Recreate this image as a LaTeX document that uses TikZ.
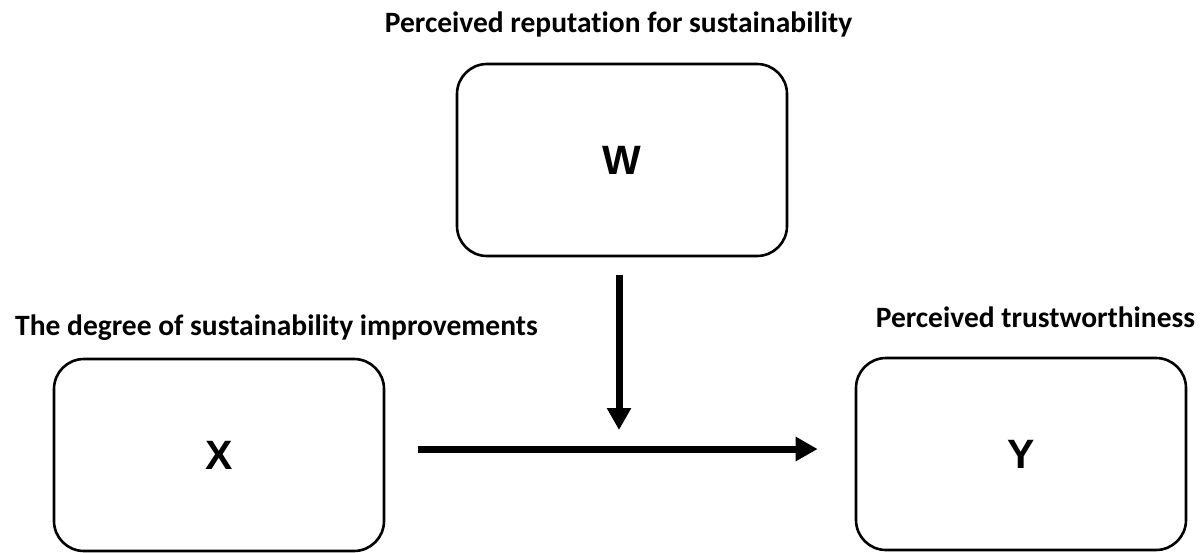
\documentclass[tikz,border=0pt]{standalone}
\usepackage{fontspec}
\setmainfont{Carlito}[Ligatures={NoCommon,NoRequired,NoContextual}]
\newfontfamily\letterfont{Liberation Sans}
\usetikzlibrary{arrows.meta}
\begin{document}
\begin{tikzpicture}[x=1pt,y=-1pt,
  varbox/.style={draw=black, line width=2.6pt, rounded corners=30pt, fill=white,
    minimum width=330pt, minimum height=192pt, inner sep=0pt,
    font=\letterfont\bfseries\fontsize{41}{44}\selectfont},
  caption/.style={inner sep=0pt, anchor=base, font=\bfseries\fontsize{29.5}{32}\selectfont},
  path/.style={line width=7pt, -{Triangle[length=22pt,width=23pt]}}]
  \useasboundingbox (0,0) rectangle (1203,552);

  % the three variables
  \node[varbox] (W) at (622,160) {W};
  \node[varbox] (X) at (219,455) {X};
  \node[varbox] (Y) at (1021,454) {Y};

  % captions above the boxes
  \node[caption] (Wcap) at (618.5,32) {Perceived reputation for sustainability};
  \node[caption] (Xcap) at (276.5,335) {The degree of sustainability improvements};
  \node[caption] (Ycap) at (1035.5,327) {Perceived trustworthiness};

  % main effect and the moderating path onto it
  \draw[path, shorten <=33pt, shorten >=37pt] (X.east |- 0,449) coordinate (xs) -- (Y.west |- 0,449) coordinate (ye);
  \coordinate (m) at (619,449);
  \draw[path, shorten <=18pt, shorten >=19pt] (W.south -| m) -- (m);
\end{tikzpicture}
\end{document}
